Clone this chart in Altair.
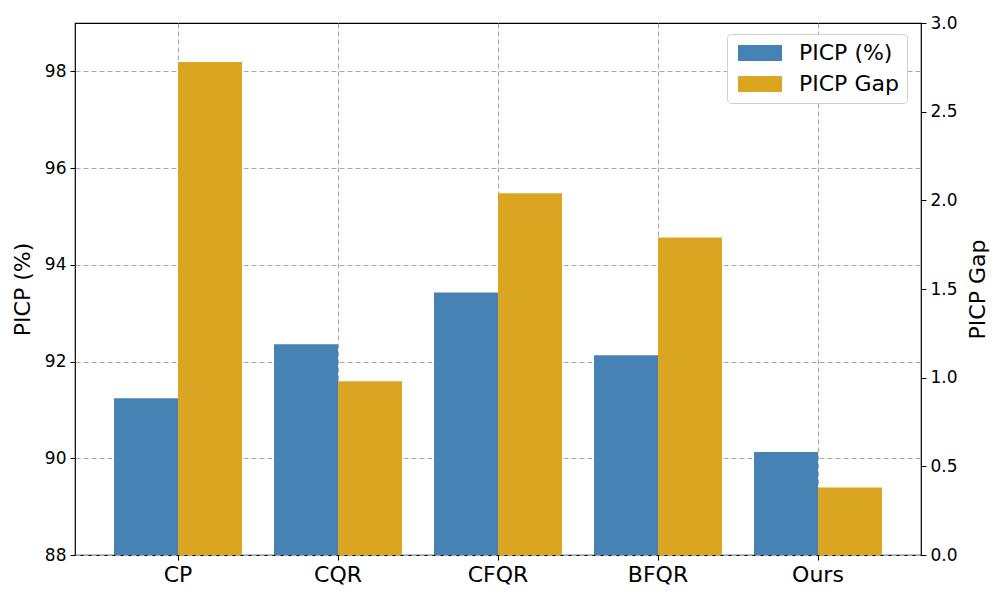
import altair as alt
import pandas as pd

methods = ["CP", "CQR", "CFQR", "BFQR", "Ours"]
picp = [91.24, 92.36, 93.43, 92.13, 90.13]
gap = [2.78, 0.98, 2.04, 1.79, 0.38]
series = ["PICP (%)", "PICP Gap"]
colors = ["#4682B4", "#DAA520"]

df = pd.DataFrame({
    "method": methods * 2,
    "series": [series[0]] * 5 + [series[1]] * 5,
    "value": picp + gap,
})

FONT = "DejaVu Sans"
GRID = "#a8a8a8"

x_enc = alt.X("method:N", sort=methods, title=None,
              scale=alt.Scale(paddingInner=0.2, paddingOuter=0.24375),
              axis=alt.Axis(labelAngle=0, labelFontSize=22, labelColor="black",
                            grid=True, gridDash=[5, 3], gridColor=GRID,
                            tickColor="black", domain=False, labelPadding=4))
xoff = alt.XOffset("series:N", sort=series, scale=alt.Scale(domain=series, paddingInner=0, paddingOuter=0))
color = alt.Color("series:N", scale=alt.Scale(domain=series, range=colors),
                  legend=alt.Legend(title=None, orient="none", legendX=652, legendY=11,
                                    labelFontSize=22,
                                    labelFont=FONT, labelColor="black",
                                    symbolType="M-1,-1H4.5V1H-1Z", symbolSize=256,
                                    symbolStrokeWidth=0, symbolOpacity=1,
                                    fillColor="white", strokeColor="#d0d0d0", cornerRadius=4,
                                    padding=8, rowPadding=9, labelOffset=42))

left = alt.Chart(df).transform_filter(alt.datum.series == series[0]).mark_bar(opacity=1, clip=True).encode(
    x=x_enc, xOffset=xoff, color=color,
    y=alt.Y("value:Q", title="PICP (%)",
            scale=alt.Scale(domain=[88, 99], nice=False, zero=False),
            axis=alt.Axis(values=[88, 90, 92, 94, 96, 98], orient="left", grid=True,
                          gridDash=[5, 3], gridColor=GRID, titleFontSize=22,
                          labelFontSize=17, titleFontWeight="normal", domain=False,
                          tickColor="black", labelColor="black", titleColor="black",
                          labelPadding=4, titlePadding=10)),
)

right = alt.Chart(df).transform_filter(alt.datum.series == series[1]).mark_bar(opacity=1, clip=True).encode(
    x=x_enc, xOffset=xoff, color=color,
    y=alt.Y("value:Q", title="PICP Gap",
            scale=alt.Scale(domain=[0, 3], nice=False),
            axis=alt.Axis(values=[0, 0.5, 1, 1.5, 2, 2.5, 3], format=".1f", orient="right",
                          grid=False, titleFontSize=22, labelFontSize=17,
                          titleFontWeight="normal", domain=False, tickColor="black",
                          labelColor="black", titleColor="black", titleAngle=270,
                          labelPadding=4, titleBaseline="top", titlePadding=10)),
)

chart = alt.layer(left, right).resolve_scale(y="independent").properties(
    width=846, height=532,
    autosize=alt.AutoSizeParams(type="none"),
    padding={"left": 67, "top": 15, "right": 70, "bottom": 45},
).configure_view(stroke="black", strokeWidth=1.2).configure_axis(
    labelFont=FONT, titleFont=FONT, tickSize=5, tickWidth=1
).configure_legend(labelFont=FONT)

chart.save("out.html", embed_options={"renderer": "svg", "actions": False})
